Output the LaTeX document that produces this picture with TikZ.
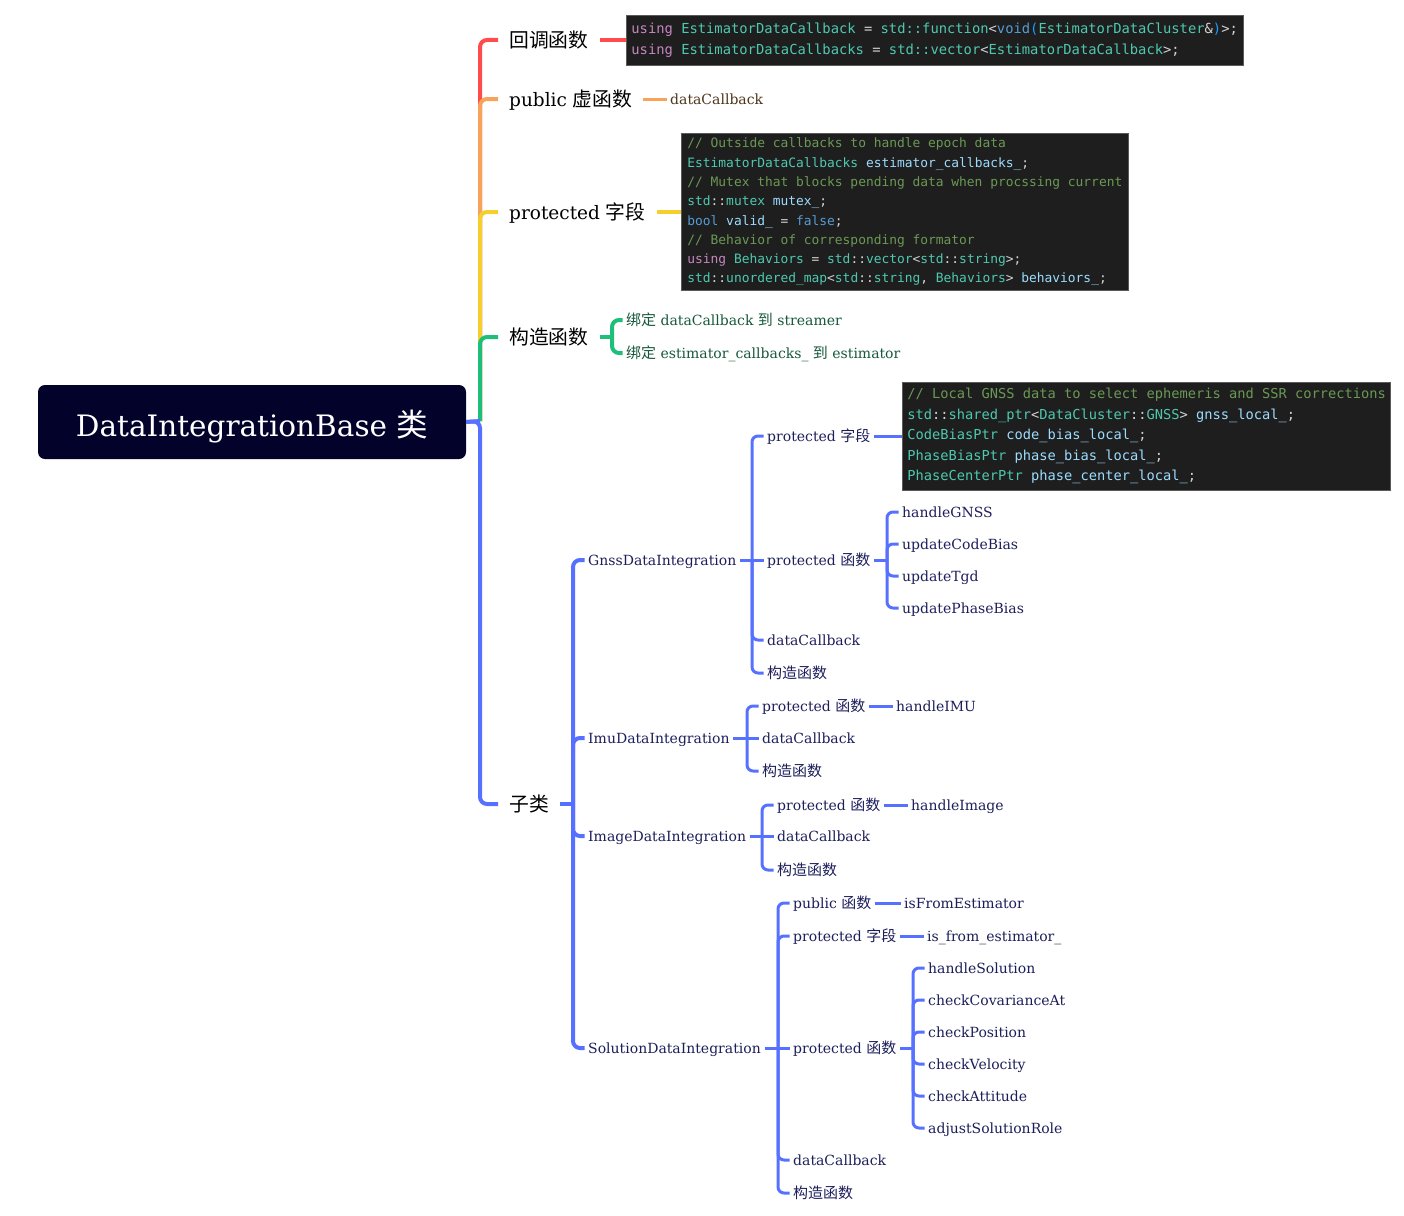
\documentclass[tikz,border=0pt]{standalone}
\usepackage{fontspec}
\setmainfont{DejaVu Serif}
\setmonofont{DejaVu Sans Mono}
\newfontfamily\cjkfont[Scale=1.07]{Noto Sans CJK SC}
\usepackage{xcolor}
\usetikzlibrary{positioning,calc}
\definecolor{MapRed}{HTML}{FF4B4B}
\definecolor{MapOrange}{HTML}{F7A35C}
\definecolor{MapYellow}{HTML}{F5CF2B}
\definecolor{MapGreen}{HTML}{1DBF7B}
\definecolor{MapBlue}{HTML}{5670FF}
\definecolor{RootInk}{HTML}{02022B}
\definecolor{SubInk}{HTML}{1C1E5A}
\definecolor{BrownInk}{HTML}{4E3418}
\definecolor{GreenInk}{HTML}{17583A}
\definecolor{CodeBg}{HTML}{1E1E1E}
\definecolor{CodeEdge}{HTML}{5A5A5A}
\definecolor{CodePlain}{HTML}{D4D4D4}
\definecolor{CodeKw}{HTML}{C586C0}
\definecolor{CodeTy}{HTML}{4EC9B0}
\definecolor{CodeVar}{HTML}{9CDCFE}
\definecolor{CodeBl}{HTML}{569CD6}
\definecolor{CodeCom}{HTML}{6A9955}
\definecolor{CodePn}{HTML}{179FFF}
\newcommand{\zh}[1]{{\cjkfont #1}}
\newcommand{\ckw}[1]{\textcolor{CodeKw}{#1}}
\newcommand{\cty}[1]{\textcolor{CodeTy}{#1}}
\newcommand{\cvar}[1]{\textcolor{CodeVar}{#1}}
\newcommand{\cbl}[1]{\textcolor{CodeBl}{#1}}
\newcommand{\ccom}[1]{\textcolor{CodeCom}{#1}}
\newcommand{\cpn}[1]{\textcolor{CodePn}{#1}}
\tikzset{
  rootbox/.style={fill=RootInk,rounded corners=7pt,minimum width=428pt,minimum height=74pt,text height=28pt,text depth=0pt,text=white,font=\fontsize{29.5}{34}\selectfont},
  mainlbl/.style={anchor=west,inner xsep=11pt,inner ysep=2pt,text height=17pt,text depth=1.5pt,text=black,font=\fontsize{18.5}{22}\selectfont},
  sublbl/.style={anchor=west,inner xsep=3.5pt,inner ysep=1pt,text height=12pt,text depth=1pt,text=SubInk,font=\fontsize{14}{17}\selectfont},
  codebox/.style 2 args={anchor=west,fill=CodeBg,draw=CodeEdge,line width=0.8pt,align=left,inner xsep=5pt,inner ysep=3pt,text=CodePlain,font=\ttfamily\fontsize{#1}{#2}\selectfont},
  trunk/.style={line width=4pt,rounded corners=7pt},
  twig/.style={line width=3pt,rounded corners=6pt,draw=MapBlue}
}
\begin{document}
\begin{tikzpicture}[x=1pt,y=-1pt]
  \useasboundingbox (0,0) rectangle (1404,1215);
  % root and first level
  \node[rootbox] (root) at (252,422) {DataIntegrationBase \zh{类}};
  \coordinate (tj) at (480,421);
  \node[mainlbl] (cb) at (498,40) {\zh{回调函数}};
  \node[mainlbl] (virt) at (498,99) {public \zh{虚函数}};
  \node[mainlbl] (field) at (498,212) {protected \zh{字段}};
  \node[mainlbl] (ctor) at (498,337) {\zh{构造函数}};
  \node[mainlbl] (sub) at (498,804) {\zh{子类}};
  % callbacks
  \node[codebox={13.8}{21},minimum height=50pt] (cbcode) at (626,40) {\ckw{using} \cty{EstimatorDataCallback} = \cty{std::function}<\cbl{void}\cpn{(}\cty{EstimatorDataCluster}\&\cpn{)}>;\\\ckw{using} \cty{EstimatorDataCallbacks} = \cty{std::vector}<\cty{EstimatorDataCallback}>;};
  \node[sublbl,text=BrownInk] (vcb) at (666.5,99) {dataCallback};
  \node[codebox={12.9}{19.3},minimum height=157pt,inner xsep=6pt] (fieldcode) at (681,212) {\ccom{// Outside callbacks to handle epoch data}\\\cty{EstimatorDataCallbacks} \cvar{estimator\_callbacks\_};\\\ccom{// Mutex that blocks pending data when procssing current}\\\cty{std}::\cty{mutex} \cvar{mutex\_};\\\cbl{bool} \cvar{valid\_} = \cbl{false};\\\ccom{// Behavior of corresponding formator}\\\ckw{using} \cty{Behaviors} = \cty{std}::\cty{vector}<\cty{std}::\cty{string}>;\\\cty{std}::\cty{unordered\_map}<\cty{std}::\cty{string}, \cty{Behaviors}> \cvar{behaviors\_};};
  \coordinate (cj) at (612,337);
  \node[sublbl,text=GreenInk] (bind1) at (622.5,320) {\zh{绑定} dataCallback \zh{到} streamer};
  \node[sublbl,text=GreenInk] (bind2) at (622.5,353) {\zh{绑定} estimator\_callbacks\_ \zh{到} estimator};
  % subclasses
  \coordinate (sj) at (573,804);
  \node[sublbl] (gnss) at (584.5,560) {GnssDataIntegration};
  \node[sublbl] (imu) at (584.5,738) {ImuDataIntegration};
  \node[sublbl] (img) at (584.5,836) {ImageDataIntegration};
  \node[sublbl] (sol) at (584.5,1048) {SolutionDataIntegration};
  % gnss
  \coordinate (gj) at (752,560);
  \node[sublbl] (gfield) at (763.5,436) {protected \zh{字段}};
  \node[sublbl] (gfunc) at (763.5,560) {protected \zh{函数}};
  \node[sublbl] (gcb) at (763.5,640) {dataCallback};
  \node[sublbl] (gctor) at (763.5,673) {\zh{构造函数}};
  \node[codebox={13.7}{20.5},minimum height=108pt] (gcode) at (902,436) {\ccom{// Local GNSS data to select ephemeris and SSR corrections}\\\cty{std}::\cty{shared\_ptr}<\cty{DataCluster}::\cty{GNSS}> \cvar{gnss\_local\_};\\\cty{CodeBiasPtr} \cvar{code\_bias\_local\_};\\\cty{PhaseBiasPtr} \cvar{phase\_bias\_local\_};\\\cty{PhaseCenterPtr} \cvar{phase\_center\_local\_};};
  \coordinate (gfj) at (887,560);
  \node[sublbl] (g1) at (898.5,512) {handleGNSS};
  \node[sublbl] (g2) at (898.5,544) {updateCodeBias};
  \node[sublbl] (g3) at (898.5,576) {updateTgd};
  \node[sublbl] (g4) at (898.5,608) {updatePhaseBias};
  % imu
  \coordinate (ij) at (747,738);
  \node[sublbl] (ifunc) at (758.5,706) {protected \zh{函数}};
  \node[sublbl] (icb) at (758.5,738) {dataCallback};
  \node[sublbl] (ictor) at (758.5,771) {\zh{构造函数}};
  \node[sublbl] (i1) at (892.5,706) {handleIMU};
  % image
  \coordinate (mj) at (762,836);
  \node[sublbl] (mfunc) at (773.5,805) {protected \zh{函数}};
  \node[sublbl] (mcb) at (773.5,836) {dataCallback};
  \node[sublbl] (mctor) at (773.5,870) {\zh{构造函数}};
  \node[sublbl] (m1) at (907.5,805) {handleImage};
  % solution
  \coordinate (soj) at (778,1048);
  \node[sublbl] (spub) at (789.5,903) {public \zh{函数}};
  \node[sublbl] (sfield) at (789.5,936) {protected \zh{字段}};
  \node[sublbl] (sfunc) at (789.5,1048) {protected \zh{函数}};
  \node[sublbl] (scb) at (789.5,1160) {dataCallback};
  \node[sublbl] (sctor) at (789.5,1193) {\zh{构造函数}};
  \node[sublbl] (s1) at (900.5,903) {isFromEstimator};
  \node[sublbl] (s2) at (923.5,936) {is\_from\_estimator\_};
  \coordinate (sfj) at (913,1048);
  \node[sublbl] (f1) at (924.5,968) {handleSolution};
  \node[sublbl] (f2) at (924.5,1000) {checkCovarianceAt};
  \node[sublbl] (f3) at (924.5,1032) {checkPosition};
  \node[sublbl] (f4) at (924.5,1064) {checkVelocity};
  \node[sublbl] (f5) at (924.5,1096) {checkAttitude};
  \node[sublbl] (f6) at (924.5,1128) {adjustSolutionRole};
  % trunk, farthest first
  \draw[trunk,MapBlue] (root.east) -- (tj) |- (sub.west);
  \foreach \n/\c in {cb/MapRed,virt/MapOrange,field/MapYellow,ctor/MapGreen}{\draw[trunk,\c] (tj) |- (\n.west);}
  \draw[trunk,MapBlue] (root.east) -- (tj);
  \draw[line width=3.5pt,MapRed] (cb.east) -- (cbcode.west);
  \draw[line width=3pt,MapOrange] (virt.east) -- (vcb.west);
  \draw[line width=3.5pt,MapYellow] (field.east) -- (fieldcode.west);
  \draw[trunk,MapGreen] (ctor.east) -- (cj);
  \foreach \n in {bind1,bind2}{\draw[trunk,MapGreen] (cj) |- (\n.west);}
  % blue twigs
  \draw[trunk,MapBlue] (sub.east) -- (sj);
  \foreach \n in {gnss,imu,img,sol}{\draw[trunk,MapBlue] (sj) |- (\n.west);}
  \draw[twig] (gnss.east) -- (gfunc.west);
  \foreach \n in {gfield,gcb,gctor}{\draw[twig] (gj) |- (\n.west);}
  \draw[twig] (gfield.east) -- (gcode.west);
  \draw[twig] (gfunc.east) -- (gfj);
  \foreach \n in {g1,g2,g3,g4}{\draw[twig] (gfj) |- (\n.west);}
  \draw[twig] (imu.east) -- (icb.west);
  \foreach \n in {ifunc,ictor}{\draw[twig] (ij) |- (\n.west);}
  \draw[twig] (ifunc.east) -- (i1.west);
  \draw[twig] (img.east) -- (mcb.west);
  \foreach \n in {mfunc,mctor}{\draw[twig] (mj) |- (\n.west);}
  \draw[twig] (mfunc.east) -- (m1.west);
  \draw[twig] (sol.east) -- (sfunc.west);
  \foreach \n in {spub,sfield,scb,sctor}{\draw[twig] (soj) |- (\n.west);}
  \draw[twig] (spub.east) -- (s1.west);
  \draw[twig] (sfield.east) -- (s2.west);
  \draw[twig] (sfunc.east) -- (sfj);
  \foreach \n in {f1,f2,f3,f4,f5,f6}{\draw[twig] (sfj) |- (\n.west);}
\end{tikzpicture}
\end{document}
